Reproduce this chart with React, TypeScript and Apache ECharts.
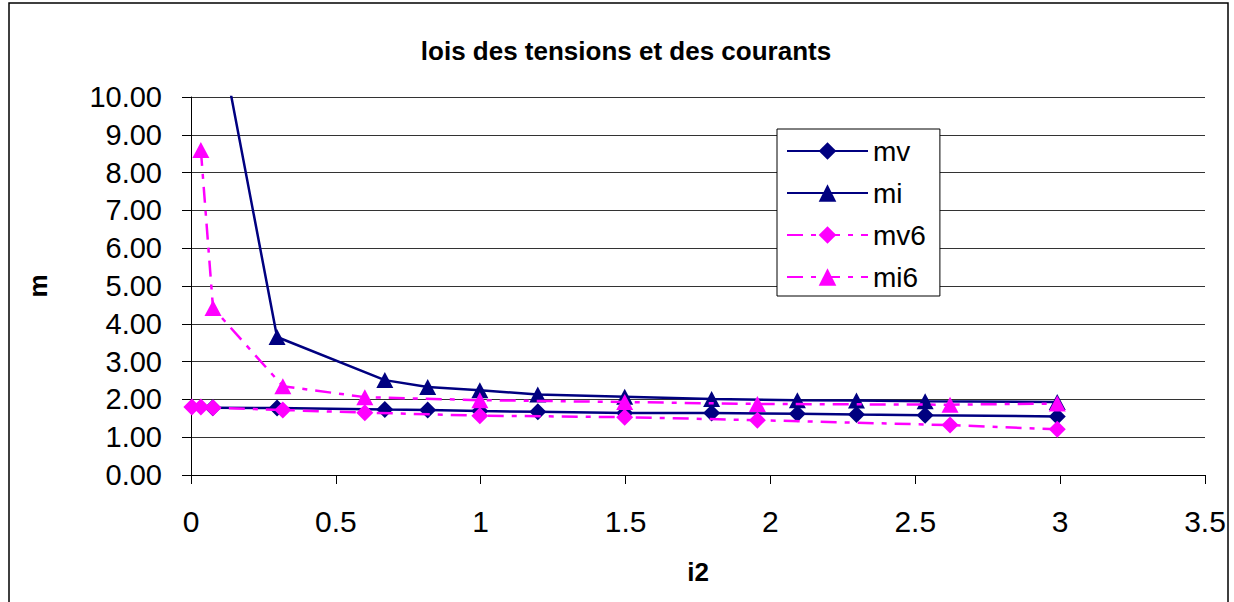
import React, { useEffect, useRef } from "react";
import * as echarts from "echarts";

const FONT = "'Liberation Sans', Arial, sans-serif";

const titleText = "lois des tensions et des courants";
const xAxisName = "i2";
const yAxisName = "m";
const xTicks = [0, 0.5, 1, 1.5, 2, 2.5, 3, 3.5];

// mv / mi series (navy)
const mvX = [0.075, 0.297, 0.669, 0.817, 0.997, 1.197, 1.497, 1.797, 2.093, 2.297, 2.534, 2.99];
const mvY = [1.78, 1.77, 1.73, 1.72, 1.69, 1.67, 1.64, 1.64, 1.62, 1.6, 1.58, 1.55];
const miX = [0.075, 0.297, 0.669, 0.817, 0.997, 1.197, 1.497, 1.797, 2.093, 2.297, 2.534, 2.99];
const miY = [12.6, 3.65, 2.51, 2.33, 2.24, 2.13, 2.07, 2.01, 1.98, 1.97, 1.95, 1.93];

// mv6 / mi6 series (magenta)
const mv6X = [0.003, 0.034, 0.076, 0.317, 0.6, 0.997, 1.497, 1.955, 2.62, 2.99];
const mv6Y = [1.8, 1.8, 1.78, 1.72, 1.65, 1.57, 1.53, 1.45, 1.32, 1.21];
const mi6X = [0.034, 0.076, 0.317, 0.6, 0.997, 1.497, 1.955, 2.62, 2.99];
const mi6Y = [8.6, 4.42, 2.35, 2.06, 1.98, 1.93, 1.88, 1.86, 1.89];

const NAVY = "#000080";
const PINK = "#FF00FF";

const pairs = (xs: number[], ys: number[]) => xs.map((x, i) => [x, ys[i]]);

export default function App() {
  const ref = useRef<HTMLDivElement>(null);
  useEffect(() => {
    if (!ref.current) return;
    const chart = echarts.init(ref.current, null, { renderer: "svg" });
    const dash = [16, 8, 5, 8];
    const mk = (name: string, xs: number[], ys: number[], color: string, symbol: string, dashed: boolean) => ({
      name,
      type: "line",
      data: pairs(xs, ys),
      symbol,
      symbolSize: symbol === "diamond" ? 17 : [17, 16],
      showSymbol: true,
      clip: true,
      itemStyle: { color },
      lineStyle: { color, width: 2.5, type: dashed ? dash : "solid" },
      z: dashed ? 3 : 2,
    });
    chart.setOption({
      animation: false,
      backgroundColor: "#fff",
      title: {
        text: titleText,
        left: 621,
        textAlign: "center",
        top: 33,
        textStyle: { fontFamily: FONT, fontSize: 26, fontWeight: "bold", color: "#000" },
      },
      grid: { left: 191, right: 29, top: 97, bottom: 127, containLabel: false },
      legend: {
        orient: "vertical",
        left: 777,
        top: 129,
        data: ["mv", "mi", "mv6", "mi6"],
        backgroundColor: "#fff",
        borderColor: "#000",
        borderWidth: 1,
        padding: [8, 14, 5, 9],
        itemWidth: 81,
        itemHeight: 22,
        itemGap: 14,
        textStyle: { fontFamily: FONT, fontSize: 28, color: "#000", lineHeight: 28, padding: [0, 0, 0, 0] },
      },
      xAxis: {
        type: "value",
        min: 0,
        max: 3.5,
        interval: 0.5,
        name: xAxisName,
        nameLocation: "middle",
        nameGap: 84,
        nameTextStyle: { fontFamily: FONT, fontSize: 26, fontWeight: "bold", color: "#000" },
        axisLine: { show: true, onZero: false, lineStyle: { color: "#000", width: 1 } },
        axisTick: { show: true, inside: false, length: 9, lineStyle: { color: "#000" } },
        axisLabel: {
          margin: 31,
          fontFamily: FONT,
          fontSize: 30,
          color: "#000",
          formatter: (v: number) => (xTicks.includes(v) ? String(v) : ""),
        },
        splitLine: { show: false },
      },
      yAxis: {
        type: "value",
        min: 0,
        max: 10,
        interval: 1,
        name: yAxisName,
        nameLocation: "middle",
        nameGap: 140,
        nameRotate: 90,
        nameTextStyle: { fontFamily: FONT, fontSize: 26, fontWeight: "bold", color: "#000" },
        axisLine: { show: true, lineStyle: { color: "#000", width: 1 } },
        axisTick: { show: true, inside: false, length: 9, lineStyle: { color: "#000" } },
        axisLabel: {
          margin: 29,
          fontFamily: FONT,
          fontSize: 29,
          color: "#000",
          formatter: (v: number) => v.toFixed(2),
        },
        splitLine: { show: true, lineStyle: { color: "#333", width: 1 } },
      },
      graphic: [
        {
          type: "rect",
          shape: { x: 9, y: 3, width: 1219, height: 620 },
          style: { fill: "none", stroke: "#000", lineWidth: 1.5 },
          silent: true,
          z: 0,
        },
      ],
      series: [
        mk("mv", mvX, mvY, NAVY, "diamond", false),
        mk("mi", miX, miY, NAVY, "triangle", false),
        mk("mv6", mv6X, mv6Y, PINK, "diamond", true),
        mk("mi6", mi6X, mi6Y, PINK, "triangle", true),
      ],
    });
    return () => chart.dispose();
  }, []);
  return (
    <div
      ref={ref}
      style={{ position: "fixed", left: 0, top: 0, width: 1234, height: 602 }}
    />
  );
}
